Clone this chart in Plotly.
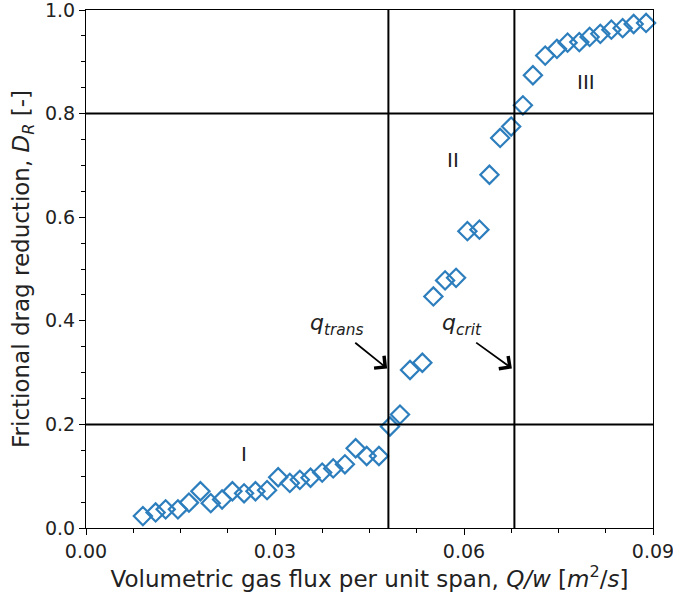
import plotly.graph_objects as go

flux = [0.00903, 0.01105, 0.01264, 0.01459, 0.01634, 0.01816, 0.0198, 0.0216, 0.02324, 0.02509,
        0.0269, 0.02874, 0.0305, 0.03235, 0.03394, 0.03564, 0.03749, 0.03924, 0.0411, 0.0428,
        0.04455, 0.0465, 0.04825, 0.04984, 0.05143, 0.05339, 0.05514, 0.057, 0.05874, 0.06054,
        0.06245, 0.06404, 0.06574, 0.06749, 0.06935, 0.07094, 0.07289, 0.07475, 0.07644, 0.0783,
        0.07994, 0.08164, 0.08339, 0.08518, 0.08693, 0.0889]
drag = [0.023, 0.030, 0.036, 0.036, 0.049, 0.071, 0.048, 0.055, 0.071, 0.067,
        0.071, 0.073, 0.098, 0.087, 0.093, 0.097, 0.107, 0.115, 0.123, 0.154,
        0.139, 0.139, 0.196, 0.219, 0.305, 0.319, 0.447, 0.478, 0.483, 0.573,
        0.576, 0.682, 0.753, 0.775, 0.816, 0.874, 0.912, 0.925, 0.937, 0.938,
        0.948, 0.954, 0.962, 0.965, 0.973, 0.975]

q_trans = 0.048
q_crit = 0.068
dr_levels = [0.2, 0.8]
x_ticks = [0.0, 0.03, 0.06, 0.09]
x_tick_labels = ["0.00", "0.03", "0.06", "0.09"]
y_ticks = [0.0, 0.2, 0.4, 0.6, 0.8, 1.0]
y_tick_labels = ["0.0", "0.2", "0.4", "0.6", "0.8", "1.0"]
regions = [("I", 0.0251, 0.143), ("II", 0.0583, 0.711), ("III", 0.0794, 0.861)]

FONT = "DejaVu Sans"
fig = go.Figure()
fig.add_trace(go.Scatter(
    x=flux, y=drag, mode="markers",
    marker=dict(symbol="diamond-open", size=14, color="#2d7ebd", line=dict(width=2.2, color="#2d7ebd")),
    showlegend=False, cliponaxis=False,
))

for xv in [q_trans, q_crit]:
    fig.add_shape(type="line", xref="x", yref="paper", x0=xv, x1=xv, y0=0, y1=1,
                  line=dict(color="black", width=2))
for yv in dr_levels:
    fig.add_shape(type="line", xref="paper", yref="y", x0=0, x1=1, y0=yv, y1=yv,
                  line=dict(color="black", width=2))

for txt, xv, yv in regions:
    fig.add_annotation(x=xv, y=yv, text=txt, showarrow=False,
                       font=dict(family=FONT, size=20, color="#222"))

for hx, tx in [(0.0478, 0.0425), (0.0676, 0.0617)]:
    fig.add_annotation(x=hx, y=0.308, ax=tx, ay=0.360, axref="x", ayref="y",
                       text="", showarrow=True, arrowhead=4, arrowsize=1.7, arrowwidth=1.8,
                       arrowcolor="black")
fig.add_annotation(x=0.0398, y=0.392, text="<i>q</i><sub><i>trans</i></sub>", showarrow=False,
                   font=dict(family=FONT, size=22, color="#222"))
fig.add_annotation(x=0.0597, y=0.392, text="<i>q</i><sub><i>crit</i></sub>", showarrow=False,
                   font=dict(family=FONT, size=22, color="#222"))

fig.update_layout(
    width=673, height=599,
    margin=dict(l=86, r=20, t=10, b=71),
    plot_bgcolor="white", paper_bgcolor="white",
    font=dict(family=FONT, size=20, color="#222"),
    xaxis=dict(range=[0, 0.09], tickvals=x_ticks, ticktext=x_tick_labels, automargin=False,
               ticklabeloverflow="allow",
               showgrid=False, zeroline=False, showline=True, linecolor="black", linewidth=1.2,
               mirror=True, ticks="outside", ticklen=6, tickwidth=1.2, tickcolor="black",
               minor=dict(dtick=0.0075, tick0=0, ticks="outside", ticklen=3.5, tickwidth=1, tickcolor="black"),
               tickfont=dict(size=19),
               title=dict(text="Volumetric gas flux per unit span, <i>Q/w</i> [<i>m</i><sup>2</sup>/<i>s</i>]",
                          font=dict(size=23), standoff=4)),
    yaxis=dict(range=[0, 1], tickvals=y_ticks, ticktext=y_tick_labels, automargin=False,
               ticklabeloverflow="allow",
               showgrid=False, zeroline=False, showline=True, linecolor="black", linewidth=1.2,
               mirror=True, ticks="outside", ticklen=6, tickwidth=1.2, tickcolor="black",
               minor=dict(dtick=0.05, tick0=0, ticks="outside", ticklen=3.5, tickwidth=1, tickcolor="black"),
               tickfont=dict(size=19),
               title=dict(text="Frictional drag reduction, <i>D</i><sub><i>R</i></sub> [-]",
                          font=dict(size=23), standoff=8)),
)

fig.write_html("out.html", config={"displayModeBar": False},
               post_script="document.body.style.margin='0';document.body.style.overflow='hidden';")
